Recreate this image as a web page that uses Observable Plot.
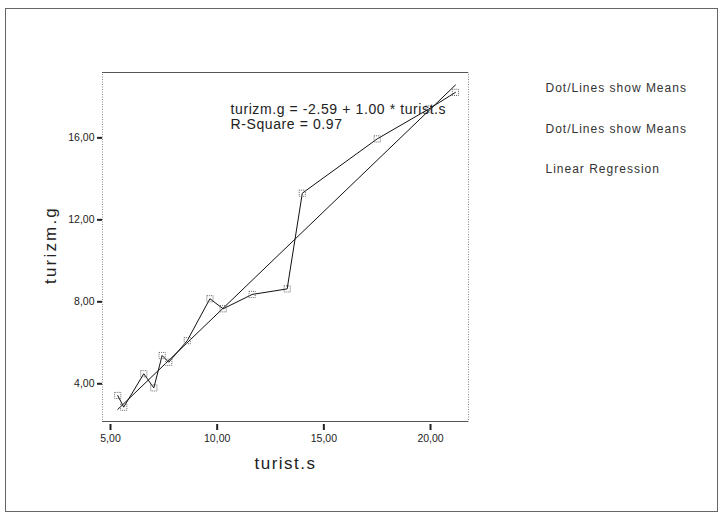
<!DOCTYPE html>
<html><head><meta charset="utf-8">
<script src="https://cdn.jsdelivr.net/npm/d3@7"></script>
<script src="https://cdn.jsdelivr.net/npm/@observablehq/plot@0.6"></script>
<style>
html,body{margin:0;padding:0;background:#fff;}
#wrap{position:relative;width:720px;height:514px;overflow:hidden;}
#wrap svg{position:absolute;left:0;top:0;}
#border{position:absolute;left:5px;top:8px;width:713px;height:504px;border:1px solid #666;box-sizing:border-box;}
</style></head><body><div id="wrap"></div>
<script>
// Means (x = turist.s, y = turizm.g)
const turist = [5.34, 5.62, 6.56, 7.03, 7.42, 7.73, 8.60, 9.66, 10.28, 11.64, 13.28, 13.99, 17.50, 19.92, 21.17];
const turizm = [3.43, 2.86, 4.49, 3.80, 5.38, 5.05, 6.11, 8.15, 7.66, 8.36, 8.63, 13.30, 15.95, 17.41, 18.22];
const xTicks = [5, 10, 15, 20];
const yTicks = [4, 8, 12, 16];
const xDomain = [4.625, 21.78];
const yDomain = [2.16, 19.19];
const intercept = -2.59, slope = 1.00, rSquare = 0.97;
const xLabel = "turist.s", yLabel = "turizm.g";
const legendLabels = ["Dot/Lines show Means", "Dot/Lines show Means", "Linear Regression"];

const data = turist.map((x, i) => ({x, y: turizm[i]}));
const xMin = d3.min(turist), xMax = d3.max(turist);
const regLine = [xMin, xMax].map(x => ({x, y: intercept + slope * x}));
const fmt = d => d.toFixed(2).replace(".", ",");
const eqText = `${yLabel} = ${intercept.toFixed(2)} + ${slope.toFixed(2)} * ${xLabel}`;
const r2Text = `R-Square = ${rSquare.toFixed(2)}`;

const plot = Plot.plot({
  width: 720, height: 514,
  marginLeft: 102, marginRight: 252, marginTop: 72, marginBottom: 93,
  style: {fontFamily: "'Liberation Sans', Arial, sans-serif", fontSize: "10.5px", background: "white", color: "#222"},
  x: {domain: xDomain},
  y: {domain: yDomain},
  marks: [
    Plot.frame({stroke: "#888", strokeDasharray: "1,1.5"}),
    Plot.ruleY(yDomain, {stroke: "#555", strokeWidth: 1}),
    Plot.axisX({ticks: xTicks, tickFormat: fmt, tickSize: 6, tickPadding: 4, strokeWidth: 2, dy: 3, label: null, fill: "#222"}),
    Plot.axisY({ticks: yTicks, tickFormat: fmt, tickSize: 5, tickPadding: 3, strokeWidth: 2, label: null, fill: "#222"}),
    Plot.line(regLine, {x: "x", y: "y", stroke: "#111", strokeWidth: 1}),
    Plot.line(data, {x: "x", y: "y", stroke: "#111", strokeWidth: 1}),
    Plot.dot(data, {x: "x", y: "y", symbol: "square", r: 3.5, stroke: "#666", strokeWidth: 1, strokeDasharray: "1,1", fill: "none"}),
    Plot.text([eqText], {frameAnchor: "top-left", dx: 128, dy: 37, textAnchor: "start", lineAnchor: "middle", fontSize: 14, fill: "#222", className: "sp-eq"}),
    Plot.text([r2Text], {frameAnchor: "top-left", dx: 128, dy: 52, textAnchor: "start", lineAnchor: "middle", fontSize: 14, fill: "#222", className: "sp-eq"}),
    ...legendLabels.map((t, i) => Plot.text([t], {frameAnchor: "top-right", dx: 77, dy: 16 + i * 40.5, textAnchor: "start", lineAnchor: "middle", fontSize: 12, fill: "#333", className: "sp-leg"})),
    Plot.text([xLabel], {frameAnchor: "bottom", dy: 42, textAnchor: "middle", lineAnchor: "middle", fontSize: 17, fill: "#222", className: "sp-x"}),
    Plot.text([yLabel], {frameAnchor: "left", dx: -52, dy: -2, rotate: -90, textAnchor: "middle", lineAnchor: "middle", fontSize: 17, fill: "#222", className: "sp-y"})
  ]
});
d3.select(plot).selectAll(".sp-eq text").style("letter-spacing", "0.6px");
d3.select(plot).selectAll(".sp-leg text").style("letter-spacing", "1px");
d3.select(plot).selectAll(".sp-x text").style("letter-spacing", "1.5px");
d3.select(plot).selectAll(".sp-y text").style("letter-spacing", "2.2px");
const wrap = document.getElementById("wrap");
wrap.appendChild(plot);
const b = document.createElement("div");
b.id = "border";
wrap.appendChild(b);
</script></body></html>
